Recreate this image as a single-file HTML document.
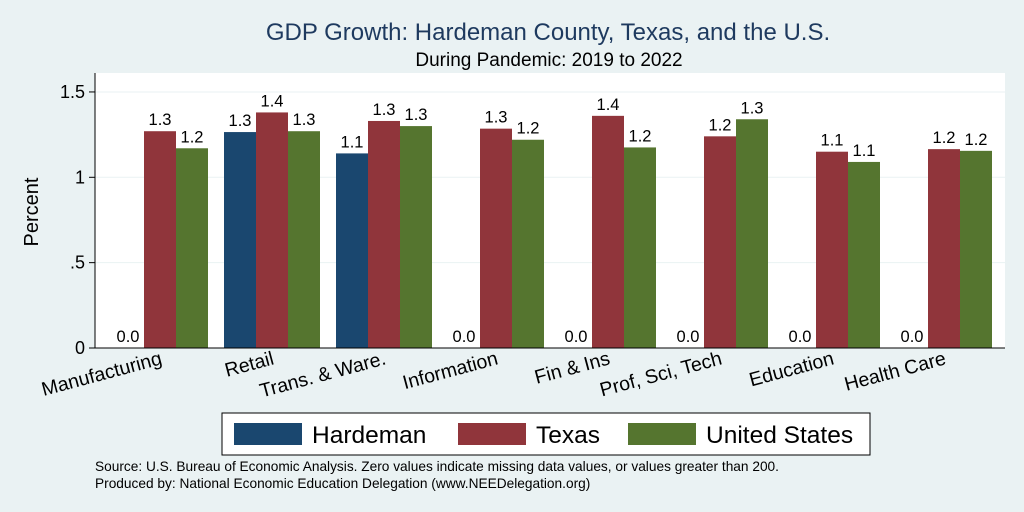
<!DOCTYPE html>
<html><head><meta charset="utf-8"><style>
body{margin:0;background:#eaf2f3;}
svg{display:block;font-family:"Liberation Sans",sans-serif;}
</style></head><body>
<svg id="c" width="1024" height="512">
<rect x="0" y="0" width="1024" height="512" fill="#eaf2f3"/>
<text x="548" y="40" font-size="24" fill="#1e3a5f" text-anchor="middle">GDP Growth: Hardeman County, Texas, and the U.S.</text>
<text x="549" y="66" font-size="19" fill="#000" text-anchor="middle">During Pandemic: 2019 to 2022</text>
<rect x="95" y="73" width="910" height="275" fill="#fff"/>
<g id="grid"></g><g id="bars"></g><g id="xl"></g>
<text transform="translate(38,212) rotate(-90)" font-size="20" text-anchor="middle">Percent</text>
<rect x="222" y="413" width="648" height="42" fill="#fff" stroke="#000" stroke-width="1"/>
<g><rect x="234" y="423" width="68" height="22" fill="#1a476f"/><text x="312" y="443" font-size="24.5">Hardeman</text></g>
<g><rect x="458" y="423" width="68" height="22" fill="#90353b"/><text x="536" y="443" font-size="24.5">Texas</text></g>
<g><rect x="628" y="423" width="68" height="22" fill="#55752f"/><text x="706" y="443" font-size="24.5">United States</text></g>
<text x="95" y="471" font-size="13.7">Source: U.S. Bureau of Economic Analysis. Zero values indicate missing data values, or values greater than 200.</text>
<text x="95" y="488" font-size="13.7">Produced by: National Economic Education Delegation (www.NEEDelegation.org)</text>
</svg>
<script>
const categories=["Manufacturing","Retail","Trans. & Ware.","Information","Fin & Ins","Prof, Sci, Tech","Education","Health Care"];
const hardeman=[0,1.265,1.14,0,0,0,0,0];
const texas=[1.27,1.38,1.33,1.285,1.36,1.24,1.15,1.165];
const us=[1.17,1.27,1.30,1.22,1.175,1.34,1.09,1.155];
const hLabels=["0.0","1.3","1.1","0.0","0.0","0.0","0.0","0.0"];
const tLabels=["1.3","1.4","1.3","1.3","1.4","1.2","1.1","1.2"];
const uLabels=["1.2","1.3","1.3","1.2","1.2","1.3","1.1","1.2"];
const yTicks=[0,0.5,1,1.5];
const yTickLabels=["0",".5","1","1.5"];
const NS="http://www.w3.org/2000/svg";
const y=v=>348-v*170.7;
const gx=i=>112+i*112;
const bw=32;
function el(t,a,p){const e=document.createElementNS(NS,t);for(const k in a)e.setAttribute(k,a[k]);p.appendChild(e);return e;}
const grid=document.getElementById('grid');
yTicks.forEach((v,i)=>{
 if(v>0){const l=el('line',{x1:95,x2:1005,y1:y(v),y2:y(v),stroke:'#eaf2f3','stroke-width':1},grid);
 
 }
 const tk=el('line',{x1:89,x2:95,y1:y(v),y2:y(v),stroke:'#000'},grid);
 
 
 const t=el('text',{x:85,y:y(v)+6,'font-size':18,'text-anchor':'end'},grid);t.textContent=yTickLabels[i];
 
 
});
const ax=el('line',{x1:95,x2:95,y1:73,y2:348,stroke:'#000'},grid);


const bars=document.getElementById('bars');
const series=[[hardeman,hLabels,'#1a476f','hardeman'],[texas,tLabels,'#90353b','texas'],[us,uLabels,'#55752f','us']];
categories.forEach((c,i)=>{
 series.forEach((s,j)=>{
  const v=s[0][i],x=gx(i)+j*bw;
  const r=el('rect',{x:x,y:y(v),width:bw,height:348-y(v),fill:s[2]},bars);
  
  
  const t=el('text',{x:x+bw/2,y:y(v)-6,'font-size':16.5,'text-anchor':'middle'},bars);t.textContent=s[1][i];
  
  
 });
 const cx=gx(i)+51;
 const t=el('text',{x:cx,y:364,'font-size':19.5,'text-anchor':'end',transform:`rotate(-15 ${cx} 364)`},document.getElementById('xl'));
 t.textContent=c;
 
 
});
const xa=el('line',{x1:95,x2:1005,y1:348,y2:348,stroke:'#000'},bars);


</script>
</body></html>
